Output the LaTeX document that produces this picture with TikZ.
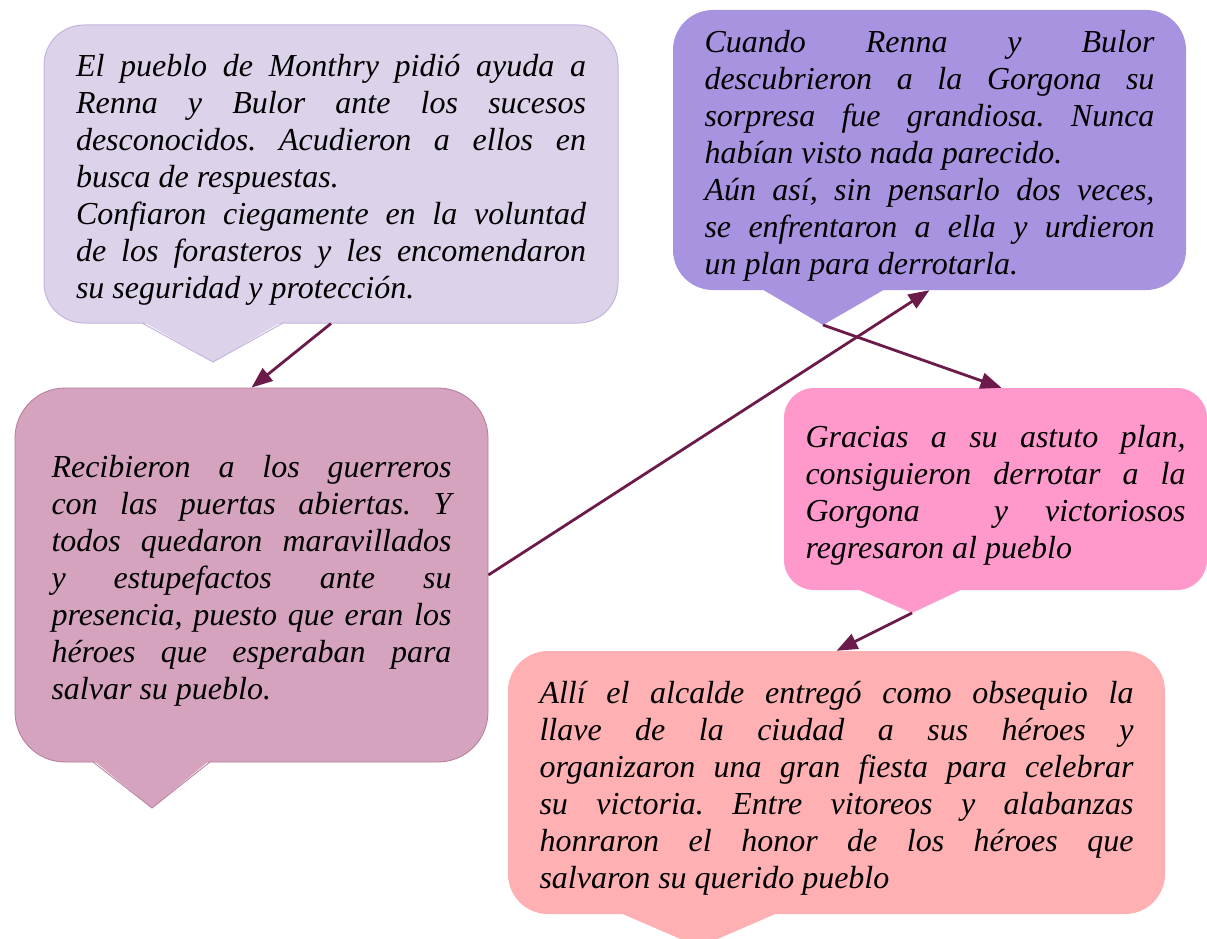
\documentclass[tikz,border=0pt]{standalone}
\usepackage{fontspec}
\setmainfont{Liberation Serif}
\usepackage{tikz}
\usetikzlibrary{arrows.meta}
\setlength{\parindent}{0pt}
\frenchspacing

\definecolor{lila}{HTML}{DCD2EA}
\definecolor{lilaborde}{HTML}{C4B4DE}
\definecolor{morado}{HTML}{A893E0}
\definecolor{malva}{HTML}{D5A3BE}
\definecolor{malvaborde}{HTML}{B57A9C}
\definecolor{rosa}{HTML}{FF99CC}
\definecolor{salmon}{HTML}{FFB0B2}
\definecolor{vino}{HTML}{6B1A4A}

\begin{document}
\begin{tikzpicture}[x=1pt, y=-1pt,
    bocadillo/.style={rectangle, rounded corners=40pt, align=justify, inner ysep=0pt,
      font=\fontsize{32}{37}\selectfont\itshape,
      execute at begin node={\rule{0pt}{34pt}}},
    flecha/.style={vino, line width=2.8pt, -{Triangle[length=21pt,width=16pt]}}]
      \useasboundingbox (0,0) rectangle (1207,939);
      \node[bocadillo, fill=lila, draw=lilaborde, line width=1pt, text width=510pt,
        inner xsep=32pt, minimum height=298pt] (pueblo) at (331,174)
        {El pueblo de Monthry pidió ayuda a\linebreak
         Renna y Bulor ante los sucesos\linebreak
         desconocidos. Acudieron a ellos en\linebreak
         busca de respuestas.\par
         Confiaron ciegamente en la voluntad\linebreak
         de los forasteros y les encomendaron\linebreak
         su seguridad y protección.};
      \node[bocadillo, fill=morado, text width=450pt, inner xsep=31.5pt,
        minimum height=280pt] (gorgona) at (929.5,150)
        {Cuando Renna y Bulor\linebreak
         descubrieron a la Gorgona su\linebreak
         sorpresa fue grandiosa. Nunca\linebreak
         habían visto nada parecido.\par
         Aún así, sin pensarlo dos veces,\linebreak
         se enfrentaron a ella y urdieron\linebreak
         un plan para derrotarla.};
      \node[bocadillo, rounded corners=50pt, fill=malva, draw=malvaborde, line width=0.8pt,
        text width=400pt, inner xsep=36.5pt, minimum height=374pt] (recibieron) at (251.5,575)
        {Recibieron a los guerreros\linebreak
         con las puertas abiertas. Y\linebreak
         todos quedaron maravillados\linebreak
         y estupefactos ante su\linebreak
         presencia, puesto que eran los\linebreak
         héroes que esperaban para\linebreak
         salvar su pueblo.};
      \node[bocadillo, rounded corners=30pt, fill=rosa, text width=380pt, inner xsep=21.5pt,
        minimum height=202pt] (gracias) at (995.5,489)
        {Gracias a su astuto plan,\linebreak
         consiguieron derrotar a la\linebreak
         Gorgona\ \ y victoriosos\linebreak
         regresaron al pueblo};
      \node[bocadillo, fill=salmon, text width=594pt, inner xsep=31.5pt,
        minimum height=263pt] (alcalde) at (836.5,782.5)
        {Allí el alcalde entregó como obsequio la\linebreak
         llave de la ciudad a sus héroes y\linebreak
         organizaron una gran fiesta para celebrar\linebreak
         su victoria. Entre vitoreos y alabanzas\linebreak
         honraron el honor de los héroes que\linebreak
         salvaron su querido pueblo};
      \coordinate (pueblo-punta) at (213,362);
      \coordinate (gorgona-punta) at (823,325);
      \coordinate (recibieron-punta) at (152,808);
      \coordinate (gracias-punta) at (912,613);
      \coordinate (alcalde-punta) at (699,947);
      \fill[lila] (142,321) -- (pueblo-punta) -- (283,321) -- cycle;
      \draw[lilaborde, line width=1pt] (142,323) -- (pueblo-punta) -- (283,323);
      \fill[morado] (760,288) -- (gorgona-punta) -- (887,288) -- cycle;
      \fill[malva] (93,760) -- (recibieron-punta) -- (210,760) -- cycle;
      \draw[malvaborde, line width=0.8pt] (93,762) -- (recibieron-punta) -- (210,762);
      \fill[rosa] (855,588) -- (gracias-punta) -- (965,588) -- cycle;
      \fill[salmon] (618,912) -- (alcalde-punta) -- (780,912) -- cycle;
      \draw[flecha] (pueblo.south) -- (recibieron.north);
      \draw[flecha] (recibieron.east) -- (gorgona.south);
      \draw[flecha] (gorgona-punta) -- ([xshift=6pt]gracias.north);
      \draw[flecha] (gracias-punta) -- (alcalde.north);
    \end{tikzpicture}
\end{document}
